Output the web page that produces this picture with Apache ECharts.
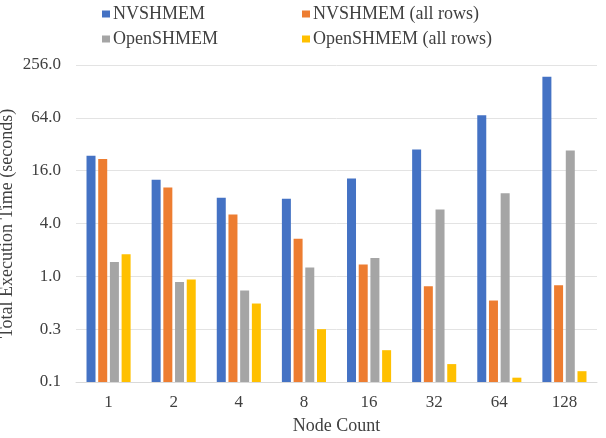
<!DOCTYPE html>
<html><head><meta charset="utf-8">
<script src="https://cdn.jsdelivr.net/npm/echarts@6/dist/echarts.min.js"></script>
<style>html,body{margin:0;padding:0;background:#fff}#c{width:606px;height:438px}</style>
</head><body><div id="c"></div>
<script>
const categories = ['1','2','4','8','16','32','64','128'];
const nvshmem = [23.6, 12.6, 7.85, 7.65, 13.0, 27.8, 68.7, 188];
const nvshmemAll = [21.8, 10.3, 5.06, 2.68, 1.36, 0.77, 0.53, 0.79];
const openshmem = [1.46, 0.86, 0.69, 1.26, 1.62, 5.78, 8.86, 27.2];
const openshmemAll = [1.78, 0.92, 0.49, 0.25, 0.144, 0.100, 0.070, 0.083];
const seriesNames = ['NVSHMEM', 'NVSHMEM (all rows)', 'OpenSHMEM', 'OpenSHMEM (all rows)'];
const colors = ['#4472C4', '#ED7D31', '#A5A5A5', '#FFC000'];
const axisMin = 0.0625, axisMax = 256;
const font = 'Liberation Serif';
const txt = '#404040';

const chart = echarts.init(document.getElementById('c'), null, {renderer: 'canvas'});
const values = [nvshmem, nvshmemAll, openshmem, openshmemAll];
const legendCommon = {orient: 'vertical', itemWidth: 8, itemHeight: 7, itemGap: 7, icon: 'rect', padding: 0,
  textStyle: {fontFamily: font, fontSize: 18, color: txt, padding: [0, 0, 0, -2]}};
const series = [];
seriesNames.forEach((n, i) => {
  series.push({name: 'base' + i, type: 'bar', stack: 's' + i, data: values[i].map(() => axisMin),
    barWidth: 9, barGap: '30%', itemStyle: {color: 'rgba(0,0,0,0)'}, silent: true});
  series.push({name: n, type: 'bar', stack: 's' + i, data: values[i].map(v => v - axisMin),
    barWidth: 9, barGap: '30%', itemStyle: {color: colors[i]}});
});
chart.setOption({
  animation: false,
  legend: [
    Object.assign({left: 102, top: 5, data: [seriesNames[0], seriesNames[2]]}, legendCommon),
    Object.assign({left: 302, top: 5, data: [seriesNames[1], seriesNames[3]]}, legendCommon)
  ],
  grid: {left: 76, right: 9, top: 65, bottom: 56, containLabel: false, outerBoundsMode: 'none'},
  xAxis: {
    type: 'category', data: categories,
    axisLine: {lineStyle: {color: '#d9d9d9'}},
    axisTick: {show: false},
    axisLabel: {fontFamily: font, fontSize: 17, color: txt, margin: 12},
    name: 'Node Count', nameLocation: 'middle', nameGap: 35, nameMoveOverlap: false,
    nameTextStyle: {fontFamily: font, fontSize: 18, color: txt}
  },
  yAxis: {
    type: 'log', logBase: 4, min: axisMin, max: axisMax,
    axisLine: {show: false}, axisTick: {show: false},
    splitLine: {lineStyle: {color: '#e3e3e3'}},
    axisLabel: {fontFamily: font, fontSize: 17, color: txt, margin: 15,
      formatter: v => Number(v).toFixed(1)},
    name: 'Total Execution Time (seconds)', nameLocation: 'middle', nameGap: 60, nameMoveOverlap: false,
    nameTextStyle: {fontFamily: font, fontSize: 18, color: txt}
  },
  series: series
});
</script></body></html>
